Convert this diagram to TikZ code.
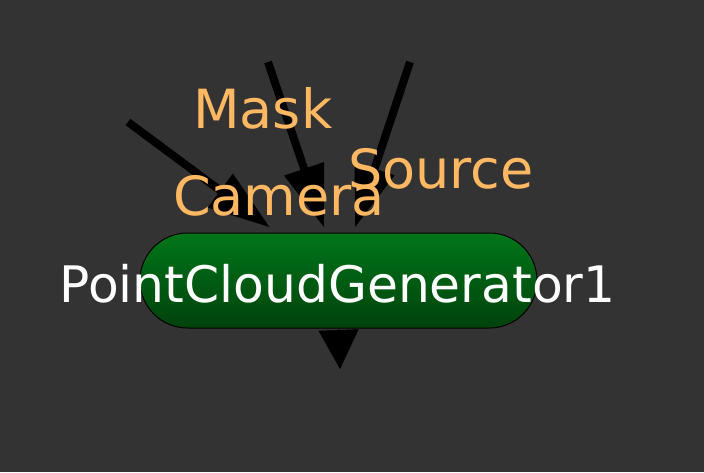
\documentclass[tikz,border=0pt]{standalone}
\usepackage{fontspec}
\newfontfamily\dvsans{DejaVu Sans}
\usetikzlibrary{shapes.misc,arrows.meta,calc}
\definecolor{bgc}{HTML}{333333}
\definecolor{lblc}{HTML}{FFB862}
\definecolor{gtop}{HTML}{00761A}
\definecolor{gbot}{HTML}{00420C}
\tikzset{
  genbox/.style={rounded rectangle, draw=black, line width=1pt,
    top color=gtop, bottom color=gbot,
    minimum width=397pt, minimum height=95pt, inner sep=0pt},
  inarrow/.style={draw=black, line width=8pt,
    -{Triangle[length=62pt,width=40pt]}},
  outarrow/.style={draw=black, line width=0.5pt,
    -{Triangle[length=39pt,width=40pt]}},
  lbl/.style={text=lblc, anchor=base west, inner sep=0pt,
    font=\dvsans\fontsize{54}{64}\selectfont}
}
\begin{document}
\begin{tikzpicture}[x=1pt,y=-1pt]
\fill[bgc] (0,0) rectangle (704,472);
\useasboundingbox (0,0) rectangle (704,472);
\node[genbox] (gen) at (338.5,280.5) {};
\node[text=white, inner sep=0pt, anchor=base, font=\dvsans\fontsize{50.3}{60}\selectfont] (gentext) at (337.5,302) {PointCloudGenerator1};
\coordinate (camS) at (128,122);
\coordinate (maskS) at (268,62);
\coordinate (srcS) at (410,62);
\coordinate (outE) at (340,369);
\draw[inarrow] (camS) -- ($(gen.north)+(-68.5,-5)$);
\draw[inarrow] (maskS) -- ($(gen.north)+(-14.5,-5)$);
\draw[inarrow] (srcS) -- ($(gen.north)+(16.5,-5)$);
\draw[outarrow] (gen.south) -- (outE);
\node[lbl] (lmask) at (193,128) {Mask};
\node[lbl] (lcam) at (173,215) {Camera};
\node[lbl] (lsrc) at (348,188) {Source};
\end{tikzpicture}
\end{document}
